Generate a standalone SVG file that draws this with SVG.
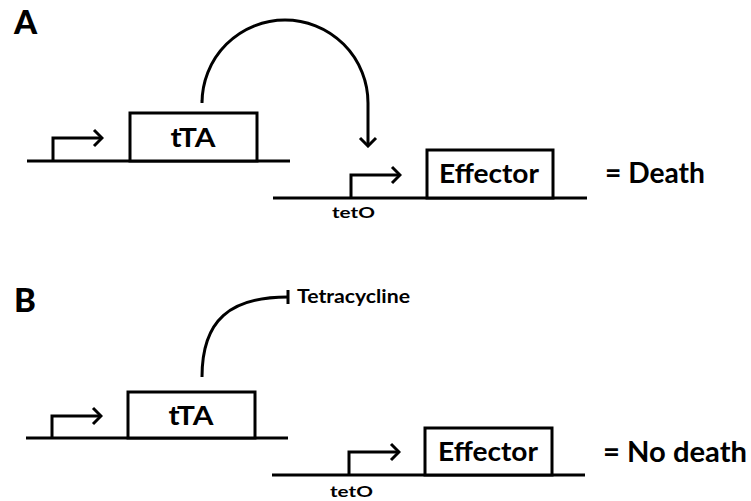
<svg xmlns="http://www.w3.org/2000/svg" width="751" height="501" viewBox="0 0 751 501">
<style>
.ln{stroke:#000;stroke-width:3;fill:none}
.bx{stroke:#000;stroke-width:3;fill:#fff}
text{font-family:Lato,"Liberation Sans",Arial,sans-serif;font-weight:bold;fill:#000}
.big{font-size:33px;font-weight:900}
.gene{font-size:27px;text-anchor:middle}
.res{font-size:28px}
.small{font-size:16px}
.tc{font-size:18px}
</style>
<defs>
<marker id="arr" viewBox="-12 -12 14 24" markerWidth="14" markerHeight="24" refX="0" refY="0" orient="auto" markerUnits="userSpaceOnUse">
<path d="M-8,-8 L0,0 L-8,8" fill="none" stroke="#000" stroke-width="3"/>
</marker>
</defs>
<rect width="751" height="501" fill="#fff"/>
<g id="label-A"><text class="big" x="14" y="34">A</text></g>
<g id="label-B"><text class="big" x="14" y="312">B</text></g>

<g id="dna-A1">
<line class="ln" x1="27" y1="161" x2="290" y2="161"/>
<path class="ln" d="M53,161 V138 H102" marker-end="url(#arr)"/>
</g>
<g id="tTA-A">
<rect class="bx" x="130" y="113" width="127" height="48"/>
<text class="gene" x="193" y="147" textLength="45" lengthAdjust="spacingAndGlyphs">tTA</text>
</g>
<g id="dna-A2">
<line class="ln" x1="273" y1="198" x2="587" y2="198"/>
<path class="ln" d="M351,198 V175 H400" marker-end="url(#arr)"/>
<text class="small" x="332" y="218" textLength="43" lengthAdjust="spacingAndGlyphs">tetO</text>
</g>
<g id="effector-A">
<rect class="bx" x="427" y="150" width="126" height="48"/>
<text class="gene" x="489" y="183" textLength="100" lengthAdjust="spacingAndGlyphs">Effector</text>
</g>
<g id="result-A"><text class="res" x="605" y="183" textLength="100" lengthAdjust="spacingAndGlyphs">= Death</text></g>

<g id="dna-B1">
<line class="ln" x1="26" y1="438" x2="288" y2="438"/>
<path class="ln" d="M52,438 V416 H101" marker-end="url(#arr)"/>
</g>
<g id="tTA-B">
<rect class="bx" x="128" y="392" width="127" height="46"/>
<text class="gene" x="191" y="425" textLength="45" lengthAdjust="spacingAndGlyphs">tTA</text>
</g>
<g id="dna-B2">
<line class="ln" x1="272" y1="475" x2="585" y2="475"/>
<path class="ln" d="M349,475 V452 H399" marker-end="url(#arr)"/>
<text class="small" x="330" y="497" textLength="43" lengthAdjust="spacingAndGlyphs">tetO</text>
</g>
<g id="effector-B">
<rect class="bx" x="425" y="428" width="127" height="47"/>
<text class="gene" x="488" y="461" textLength="100" lengthAdjust="spacingAndGlyphs">Effector</text>
</g>
<g id="result-B"><text class="res" x="603" y="462" textLength="144" lengthAdjust="spacingAndGlyphs">= No death</text></g>
<g id="tetracycline"><text class="tc" x="297" y="303" textLength="113" lengthAdjust="spacingAndGlyphs">Tetracycline</text></g>

<g id="connectors">
<path class="ln" d="M202,100 V103 A83,83 0 0 1 368,103 V146" marker-end="url(#arr)"/>
<path class="ln" d="M202,377 C202,320 230,297 288,297"/>
<line class="ln" x1="288" y1="290" x2="288" y2="304"/>
</g>
</svg>
